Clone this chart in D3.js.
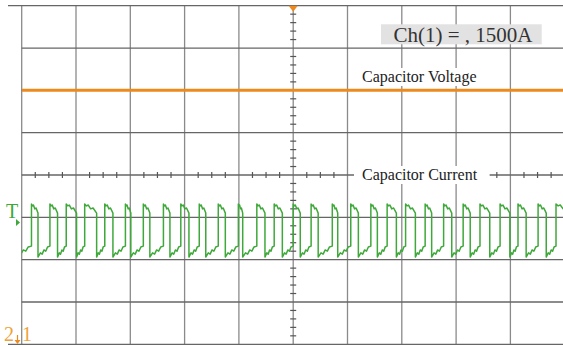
<!DOCTYPE html>
<html>
<head>
<meta charset="utf-8">
<script src="https://cdn.jsdelivr.net/npm/d3@7"></script>
<style>
  body { margin: 0; background: #fff; }
  svg { display: block; }
</style>
</head>
<body>
<div id="chart"></div>
<script>
// scope screen, values in divisions
const timeDivs = d3.range(0, 11);
const levelDivs = d3.range(-4, 5);
const voltageLevel = 2.0;
const riseTimes = [0.18, 0.52, 0.82, 1.16, 1.53, 1.91, 2.24, 2.61, 2.93, 3.27, 3.62, 3.99, 4.33, 4.65, 5.00,
  5.33, 5.72, 6.06, 6.43, 6.73, 7.07, 7.43, 7.77, 8.13, 8.44, 8.81, 9.14, 9.51, 9.84];
const fallTimes = [0.30, 0.66, 1.01, 1.38, 1.68, 2.01, 2.36, 2.73, 3.08, 3.39, 3.75, 4.07, 4.48, 4.80, 5.13,
  5.46, 5.82, 6.20, 6.55, 6.90, 7.25, 7.55, 7.92, 8.26, 8.62, 8.99, 9.29, 9.66, 10.1];
// shape of the current pulse: [fraction of segment, level]
const highShape = [[0, -0.685], [0.15, -0.73], [0.3, -0.71], [0.5, -0.80], [0.7, -0.78], [1, -0.90]];
const lowShape = [[0, -1.94], [0.2, -1.84], [0.35, -1.87], [0.5, -1.77], [0.65, -1.80], [0.8, -1.70], [1, -1.68]];
const rangeText = 'Ch(1) = , 1500A';
const voltageLabel = 'Capacitor Voltage';
const currentLabel = 'Capacitor Current';

const width = 563, height = 347;
const orange = '#ec8a1e', green = '#3fa83a';
const serif = '"Liberation Serif", "DejaVu Serif", serif';

const svg = d3.select('#chart').append('svg')
  .attr('width', width)
  .attr('height', height);

const x = d3.scaleLinear().domain([0, 10]).range([21.7, 564.7]);
const y = d3.scaleLinear().domain([-4, 4]).range([344.3, 5.7]);

svg.append('clipPath').attr('id', 'plot')
  .append('rect')
  .attr('x', x(0)).attr('y', y(4))
  .attr('width', x(10) - x(0)).attr('height', y(-4) - y(4));

// grid
const grid = svg.append('g');
grid.selectAll('line.v')
  .data(timeDivs)
  .enter().append('line')
  .attr('class', 'v')
  .attr('x1', d => x(d)).attr('x2', d => x(d))
  .attr('y1', y(4)).attr('y2', y(-4))
  .attr('stroke', '#8a8a8a')
  .attr('stroke-width', 1.3);

grid.selectAll('line.h')
  .data(levelDivs)
  .enter().append('line')
  .attr('class', 'h')
  .attr('x1', d => (d === 4 || d === -4) ? 8 : x(0))
  .attr('x2', x(10))
  .attr('y1', d => y(d)).attr('y2', d => y(d))
  .attr('stroke', '#666')
  .attr('stroke-width', 1.3);

// minor ticks on the centre axes
const xMinor = d3.range(0, 10.001, 0.25).filter(d => d % 1 !== 0);
const yMinor = d3.range(-4, 4.001, 0.2).filter(d => Math.abs(d - Math.round(d)) > 0.01);
grid.selectAll('line.xt')
  .data(xMinor)
  .enter().append('line')
  .attr('x1', d => x(d)).attr('x2', d => x(d))
  .attr('y1', y(0) - 3).attr('y2', y(0) + 3)
  .attr('stroke', '#555').attr('stroke-width', 1.2);
grid.selectAll('line.yt')
  .data(yMinor)
  .enter().append('line')
  .attr('x1', x(5) - 3).attr('x2', x(5) + 3)
  .attr('y1', d => y(d)).attr('y2', d => y(d))
  .attr('stroke', '#555').attr('stroke-width', 1.2);

// labels with white background
function boxedLabel(txt, tx, ty, size, fill, pad) {
  const g = svg.append('g');
  const r = g.append('rect').attr('fill', fill);
  const t = g.append('text')
    .attr('x', tx).attr('y', ty)
    .attr('font-family', serif)
    .attr('font-size', size)
    .attr('fill', '#222')
    .text(txt);
  const b = t.node().getBBox();
  r.attr('x', b.x - pad[0]).attr('y', b.y - pad[1])
    .attr('width', b.width + pad[0] + pad[2]).attr('height', b.height + 2 * pad[1]);
  return g;
}

// capacitor voltage trace
svg.append('line')
  .attr('x1', x(0)).attr('x2', x(10))
  .attr('y1', y(voltageLevel)).attr('y2', y(voltageLevel))
  .attr('stroke', orange)
  .attr('stroke-width', 3)
  .attr('clip-path', 'url(#plot)');

boxedLabel(voltageLabel, 362, 82, 16, '#fff', [2, 0, 2]);
boxedLabel(currentLabel, 362, 180, 16, '#fff', [8, 0, 12]);

// capacitor current trace
const pts = [];
riseTimes.forEach((r, i) => {
  const f0 = i === 0 ? -0.12 : fallTimes[i - 1];
  lowShape.forEach(([p, v]) => pts.push([f0 + p * (r - f0), v]));
  const f1 = fallTimes[i];
  highShape.forEach(([p, v]) => pts.push([r + p * (f1 - r), v]));
});

svg.append('path')
  .datum(pts)
  .attr('d', d3.line().x(d => x(d[0])).y(d => y(d[1])))
  .attr('fill', 'none')
  .attr('stroke', green)
  .attr('stroke-width', 1.5)
  .attr('stroke-linejoin', 'round')
  .attr('clip-path', 'url(#plot)');

// range readout
const rb = svg.append('g');
rb.append('rect')
  .attr('x', 381).attr('y', 24.3)
  .attr('width', 160.7).attr('height', 20)
  .attr('fill', '#e2e2e2');
rb.append('text')
  .attr('x', 463).attr('y', 41.5)
  .attr('text-anchor', 'middle')
  .attr('font-family', serif)
  .attr('font-size', 21)
  .attr('fill', '#333')
  .text(rangeText);

// trigger marker at top
svg.append('path')
  .attr('d', `M${x(5) - 4.5},${y(4)} L${x(5) + 4.5},${y(4)} L${x(5)},${y(4) + 6}Z`)
  .attr('fill', orange);

// T marker for the current channel
svg.append('text')
  .attr('x', 6).attr('y', 218)
  .attr('font-family', serif)
  .attr('font-size', 20)
  .attr('fill', green)
  .text('T');
svg.append('path')
  .attr('d', `M16,219 L20,222.5 L16,226Z`)
  .attr('fill', green);

// channel markers bottom left
const chMarks = svg.append('g')
  .attr('font-family', serif)
  .attr('font-size', 20)
  .attr('fill', '#eea23a');
chMarks.append('text').attr('x', 4).attr('y', 341).text('2');
chMarks.append('text').attr('x', 22).attr('y', 341).text('1');
svg.append('line')
  .attr('x1', 17.5).attr('x2', 17.5).attr('y1', 335).attr('y2', 341)
  .attr('stroke', orange).attr('stroke-width', 1.2);
svg.append('path')
  .attr('d', 'M14.5,340 L20.5,340 L17.5,344Z')
  .attr('fill', orange);
</script>
</body>
</html>
